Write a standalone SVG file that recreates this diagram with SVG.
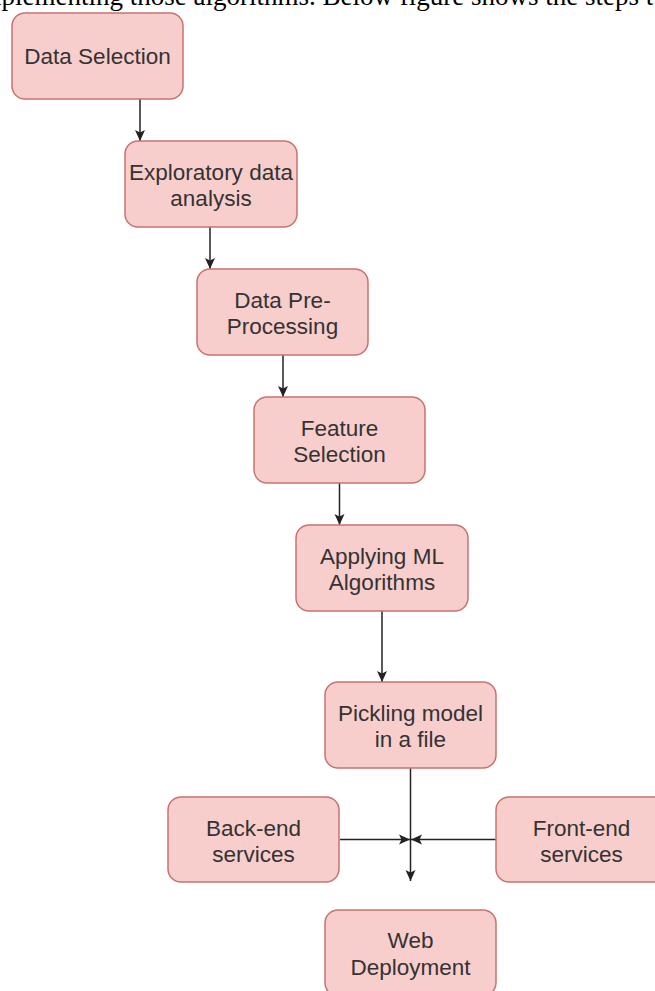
<svg xmlns="http://www.w3.org/2000/svg" width="655" height="991" viewBox="0 0 655 991">
<style>
.box{fill:#f8cecc;stroke:#c8736f;stroke-width:1.5}
.lbl{font-family:"Liberation Sans",Arial,sans-serif;font-size:22.5px;fill:#333333;text-anchor:middle}
.edge{stroke:#222222;stroke-width:1.5;fill:none}
.top{font-family:"Liberation Serif","Times New Roman",serif;font-size:27px;fill:#000000}
</style>
<defs>
<marker id="arr" markerUnits="userSpaceOnUse" markerWidth="12" markerHeight="12" viewBox="0 0 12 12" refX="11" refY="6" orient="auto">
<path d="M0,1 L11,6 L0,11 L2.5,6 z" fill="#222222"/>
</marker>
</defs>
<rect width="655" height="991" fill="#ffffff"/>
<text class="top" x="-27" y="5">implementing those algorithms. Below figure shows the steps t</text>
<g id="connectors">
<line class="edge" x1="140" y1="99" x2="140" y2="141" marker-end="url(#arr)"/>
<line class="edge" x1="210" y1="227" x2="210" y2="269" marker-end="url(#arr)"/>
<line class="edge" x1="283" y1="355" x2="283" y2="397" marker-end="url(#arr)"/>
<line class="edge" x1="339.5" y1="483" x2="339.5" y2="525" marker-end="url(#arr)"/>
<line class="edge" x1="382" y1="611" x2="382" y2="682" marker-end="url(#arr)"/>
<line class="edge" x1="410.5" y1="768" x2="410.5" y2="881" marker-end="url(#arr)"/>
<line class="edge" x1="340" y1="839.5" x2="410" y2="839.5" marker-end="url(#arr)"/>
<line class="edge" x1="496" y1="839.5" x2="411" y2="839.5" marker-end="url(#arr)"/>
</g>
<g id="data-selection">
<rect class="box" x="12" y="13" width="171" height="86" rx="13"/>
<text class="lbl" x="97.5" y="64">Data Selection</text>
</g>
<g id="eda">
<rect class="box" x="125" y="141" width="172" height="86" rx="13"/>
<text class="lbl" x="211" y="180">Exploratory data</text>
<text class="lbl" x="211" y="206">analysis</text>
</g>
<g id="preprocessing">
<rect class="box" x="197" y="269" width="171" height="86" rx="13"/>
<text class="lbl" x="282.5" y="308">Data Pre-</text>
<text class="lbl" x="282.5" y="334">Processing</text>
</g>
<g id="feature-selection">
<rect class="box" x="254" y="397" width="171" height="86" rx="13"/>
<text class="lbl" x="339.5" y="436">Feature</text>
<text class="lbl" x="339.5" y="462">Selection</text>
</g>
<g id="ml">
<rect class="box" x="296" y="525" width="172" height="86" rx="13"/>
<text class="lbl" x="382" y="564">Applying ML</text>
<text class="lbl" x="382" y="590">Algorithms</text>
</g>
<g id="pickling">
<rect class="box" x="325" y="682" width="171" height="86" rx="13"/>
<text class="lbl" x="410.5" y="721">Pickling model</text>
<text class="lbl" x="410.5" y="747">in a file</text>
</g>
<g id="backend">
<rect class="box" x="168" y="797" width="171" height="85" rx="13"/>
<text class="lbl" x="253.5" y="836">Back-end</text>
<text class="lbl" x="253.5" y="862">services</text>
</g>
<g id="frontend">
<rect class="box" x="496" y="797" width="171" height="85" rx="13"/>
<text class="lbl" x="581.5" y="836">Front-end</text>
<text class="lbl" x="581.5" y="862">services</text>
</g>
<g id="web">
<rect class="box" x="325" y="910" width="171" height="86" rx="13"/>
<text class="lbl" x="410.5" y="948">Web</text>
<text class="lbl" x="410.5" y="975">Deployment</text>
</g>
</svg>
